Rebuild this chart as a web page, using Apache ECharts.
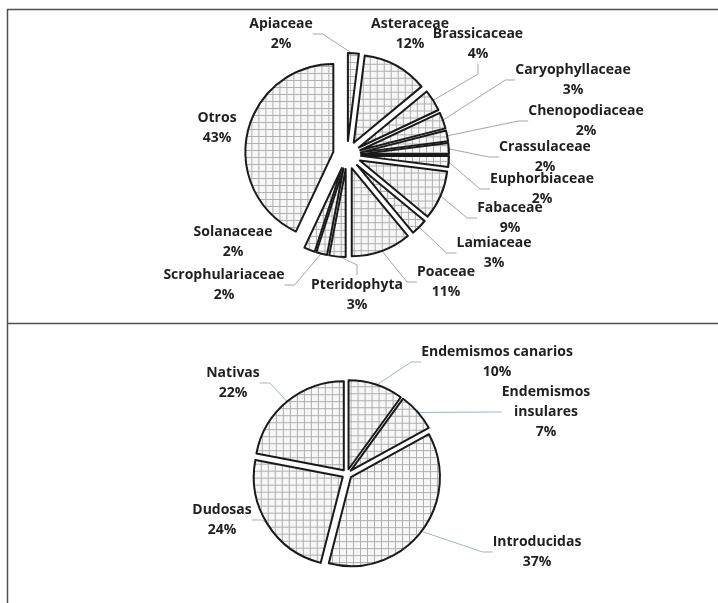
<!DOCTYPE html>
<html>
<head>
<meta charset="utf-8">
<script src="https://cdn.jsdelivr.net/npm/echarts@6/dist/echarts.min.js"></script>
<style>
  html, body { margin: 0; padding: 0; background: #ffffff; }
  #main { width: 718px; height: 603px; }
</style>
</head>
<body>
<div id="main"></div>
<script>
// Families of the flora (percent of taxa)
const familias = ['Apiaceae', 'Asteraceae', 'Brassicaceae', 'Caryophyllaceae', 'Chenopodiaceae',
  'Crassulaceae', 'Euphorbiaceae', 'Fabaceae', 'Lamiaceae', 'Poaceae', 'Pteridophyta',
  'Scrophulariaceae', 'Solanaceae', 'Otros'];
const familiasPct = [2, 12, 4, 3, 2, 2, 2, 9, 3, 11, 3, 2, 2, 43];

// Biogeographic origin (percent of taxa)
const origen = ['Endemismos canarios', 'Endemismos insulares', 'Introducidas', 'Dudosas', 'Nativas'];
const origenPct = [10, 7, 37, 24, 22];

// Label block centres, one per slice, in page pixels
const familiasLabelXY = [[281, 34], [410, 34], [478, 44], [573, 80], [586, 121], [545, 157],
  [542, 189], [510, 218], [494, 253], [446, 282], [357, 295], [224, 285], [233, 242], [217, 128]];
const origenLabelXY = [[497, 362], [546, 412], [537, 552], [222, 520], [233, 383]];

// Slices whose label sits next to the slice without a leader line
const sinGuia = ['Asteraceae', 'Solanaceae', 'Otros'];

// Grid hatch used as the slice fill
function gridPattern() {
  const c = document.createElement('canvas');
  c.width = 7; c.height = 7;
  const g = c.getContext('2d');
  g.fillStyle = '#f7f7f7';
  g.fillRect(0, 0, 7, 7);
  g.fillStyle = '#b0b0b0';
  g.fillRect(6, 0, 1, 7);
  g.fillRect(0, 6, 7, 1);
  return c;
}
const hatch = { image: gridPattern(), repeat: 'repeat' };

const labelFont = {
  fontFamily: 'Open Sans',
  fontWeight: 'bold',
  fontSize: 14,
  lineHeight: 20,
  color: '#1f1f1f'
};

// Exploded slices (every slice pulled out from the centre)
function slices(names, values, center, radius, offset) {
  return {
    type: 'pie',
    center: center,
    radius: radius,
    startAngle: 90,
    clockwise: true,
    selectedMode: 'multiple',
    selectedOffset: offset,
    animation: false,
    silent: true,
    emphasis: { disabled: true },
    itemStyle: { color: hatch, borderColor: '#1a1a1a', borderWidth: 2 },
    select: { itemStyle: { color: hatch, borderColor: '#1a1a1a', borderWidth: 2 } },
    label: { show: false },
    labelLine: { show: false },
    data: names.map(function (n, i) { return { name: n, value: values[i], selected: true }; })
  };
}

// Same data on a transparent ring reaching the exploded rim; carries the labels and leader lines
function labels(names, values, labelXY, center, radius, lineColor, wrapNames) {
  return {
    type: 'pie',
    center: center,
    radius: radius,
    startAngle: 90,
    clockwise: true,
    animation: false,
    silent: true,
    avoidLabelOverlap: false,
    emphasis: { disabled: true },
    itemStyle: { color: 'rgba(0,0,0,0)', borderWidth: 0 },
    label: Object.assign({
      show: true,
      position: 'outside',
      formatter: function (p) { return p.name + '\n' + p.value + '%'; }
    }, labelFont),
    labelLine: { show: true, length: 8, length2: 10, lineStyle: { color: lineColor, width: 1 } },
    labelLayout: function (p) {
      const xy = labelXY[p.dataIndex];
      return { x: xy[0], y: xy[1], align: 'center', verticalAlign: 'middle' };
    },
    data: names.map(function (n, i) {
      const item = { name: n, value: values[i] };
      if (sinGuia.indexOf(n) >= 0) item.labelLine = { show: false };
      if (wrapNames && wrapNames.indexOf(n) >= 0) {
        item.label = { formatter: function (p) { return p.name.replace(' ', '\n') + '\n' + p.value + '%'; } };
      }
      return item;
    })
  };
}

const chart = echarts.init(document.getElementById('main'), null, { renderer: 'canvas' });
chart.setOption({
  backgroundColor: '#ffffff',
  graphic: [
    { type: 'line', silent: true, shape: { x1: 7.5, y1: 9, x2: 7.5, y2: 603 }, style: { stroke: '#505050', lineWidth: 1.5 } },
    { type: 'line', silent: true, shape: { x1: 7, y1: 9.5, x2: 718, y2: 9.5 }, style: { stroke: '#505050', lineWidth: 1.5 } },
    { type: 'line', silent: true, shape: { x1: 7, y1: 323.5, x2: 718, y2: 323.5 }, style: { stroke: '#505050', lineWidth: 1.5 } }
  ],
  series: [
    slices(familias, familiasPct, [347, 155], 88, 14),
    labels(familias, familiasPct, familiasLabelXY, [347, 155], 101, '#a6a6a6'),
    slices(origen, origenPct, [347, 474], 89, 5),
    labels(origen, origenPct, origenLabelXY, [347, 474], 93, '#a3b4c8', ['Endemismos insulares'])
  ]
});
</script>
</body>
</html>
